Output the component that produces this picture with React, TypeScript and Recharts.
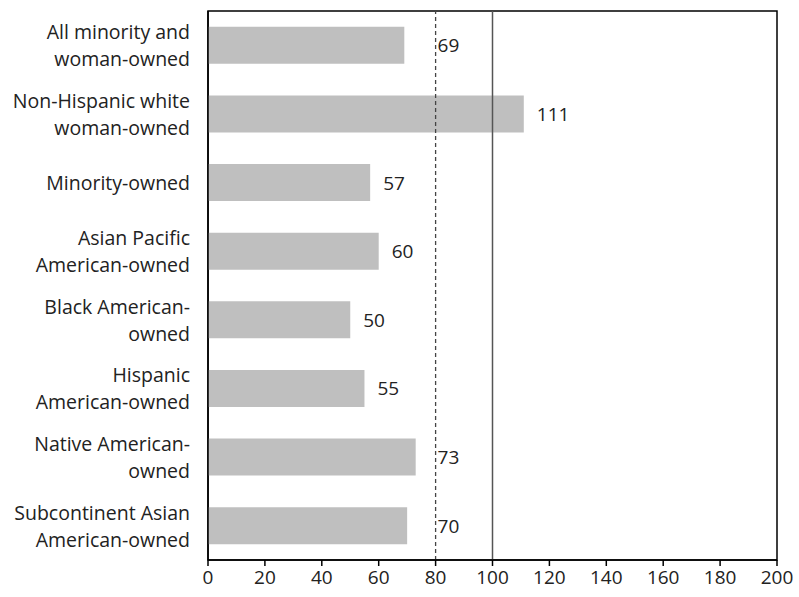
import React from 'react';
import {
  BarChart,
  Bar,
  XAxis,
  YAxis,
  ReferenceLine,
  ReferenceArea,
  LabelList
} from 'recharts';

// categories (line breaks as in the source)
const groups = [
  'All minority and\nwoman-owned',
  'Non-Hispanic white\nwoman-owned',
  'Minority-owned',
  'Asian Pacific\nAmerican-owned',
  'Black American-\nowned',
  'Hispanic\nAmerican-owned',
  'Native American-\nowned',
  'Subcontinent Asian\nAmerican-owned'
];
const ratios = [69, 111, 57, 60, 50, 55, 73, 70];
const xTicks = [0, 20, 40, 60, 80, 100, 120, 140, 160, 180, 200];
const dashedAt = 80;
const solidAt = 100;

const data = groups.map((g, i) => ({ group: g, ratio: ratios[i] }));

const FONT = '"Open Sans", sans-serif';

const GroupTick = (props: any) => {
  const { x, y, payload } = props;
  const lines = String(payload.value).split('\n');
  const lh = 27;
  const start = y - ((lines.length - 1) * lh) / 2;
  return (
    <text x={x - 10} y={start} textAnchor="end" fontSize={19.5} fill="#222" fontFamily={FONT}>
      {lines.map((l, i) => (
        <tspan key={i} x={x - 10} y={start + i * lh} dominantBaseline="central">{l}</tspan>
      ))}
    </text>
  );
};

// value label: right of the bar, pushed past the dashed line if it would overlap it
const ValueLabel = (props: any) => {
  const { x, y, width, height, value } = props;
  const perUnit = width / value;
  const lineX = x + dashedAt * perUnit;
  let lx = x + width + 13;
  if (lx < lineX + 2 && lx + 22 > lineX) lx = lineX + 2;
  return (
    <text x={lx} y={y + height / 2} fontSize={19} fill="#222" fontFamily={FONT} dominantBaseline="central">
      {value}
    </text>
  );
};

export default function App() {
  return (
    <div style={{ position: 'absolute', left: 0, top: 0, background: '#fff' }}>
      <BarChart
        width={799}
        height={597}
        data={data}
        layout="vertical"
        margin={{ top: 11, right: 22, bottom: 0, left: 0 }}
        barCategoryGap="23%"
      >
        <XAxis
          type="number"
          domain={[0, 200]}
          ticks={xTicks}
          interval={0}
          height={37}
          axisLine={{ stroke: '#000', strokeWidth: 1.5 }}
          tickLine={{ stroke: '#000', strokeWidth: 1.5 }}
          tickSize={6}
          tickMargin={5}
          tick={{ fontSize: 19, fill: '#222', fontFamily: FONT }}
        />
        <YAxis
          type="category"
          dataKey="group"
          width={208}
          axisLine={{ stroke: '#000', strokeWidth: 1.5 }}
          tickLine={false}
          tick={<GroupTick />}
          interval={0}
        />
        <ReferenceArea x1={0} x2={200} fill="none" stroke="#000" strokeWidth={1.5} ifOverflow="visible" />
        <Bar dataKey="ratio" fill="#BFBFBF" isAnimationActive={false}>
          <LabelList dataKey="ratio" content={<ValueLabel />} />
        </Bar>
        <ReferenceLine x={dashedAt} stroke="#444" strokeWidth={1.3} strokeDasharray="4 3" />
        <ReferenceLine x={solidAt} stroke="#555" strokeWidth={1.5} />
      </BarChart>
    </div>
  );
}
